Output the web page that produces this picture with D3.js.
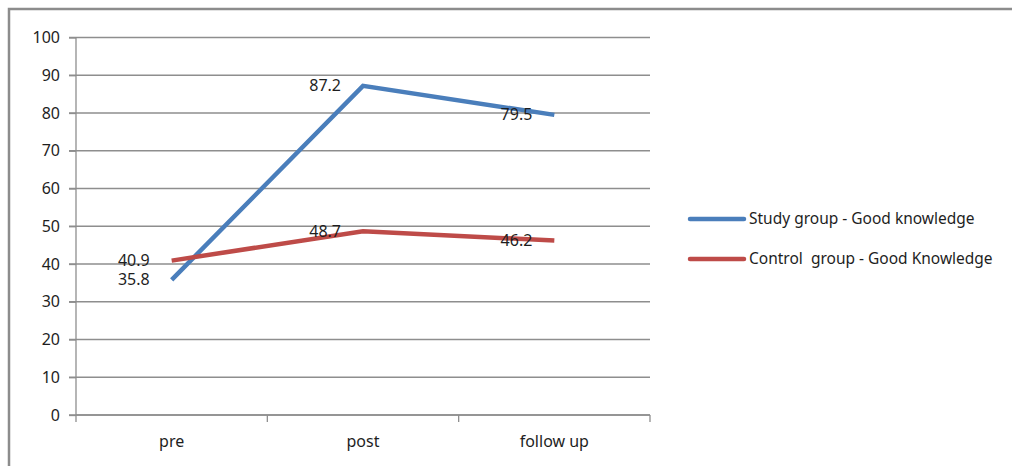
<!DOCTYPE html>
<html>
<head>
<meta charset="utf-8">
<script src="https://cdn.jsdelivr.net/npm/d3@7"></script>
<style>
  body { margin: 0; background: #fff; }
  svg { display: block; }
</style>
</head>
<body>
<script>
// chart values
const categories = ['pre', 'post', 'follow up'];
const studyValues = [35.8, 87.2, 79.5];
const controlValues = [40.9, 48.7, 46.2];
const yTicks = [0, 10, 20, 30, 40, 50, 60, 70, 80, 90, 100];
const seriesNames = ['Study group - Good knowledge', 'Control  group - Good Knowledge'];

const series = [
  { name: seriesNames[0], values: studyValues, color: '#4a7ebb' },
  { name: seriesNames[1], values: controlValues, color: '#be4b48' }
];

const svg = d3.select('body').append('svg')
  .attr('width', 1012)
  .attr('height', 466);

// outer frame (right and bottom edges are cut off in the original)
svg.append('path')
  .attr('d', 'M9,466 V9 H1012')
  .attr('fill', 'none')
  .attr('stroke', '#8c8c8c')
  .attr('stroke-width', 2.5);

const x = d3.scaleBand().domain(categories).range([76, 650]);
const y = d3.scaleLinear().domain([0, 100]).range([415, 37.5]);

const font = '"Noto Sans", sans-serif';
const textColor = '#1e1e1e';

// gridlines
svg.append('g')
  .selectAll('line')
  .data(yTicks)
  .join('line')
  .attr('x1', 69)
  .attr('x2', 650)
  .attr('y1', d => y(d))
  .attr('y2', d => y(d))
  .attr('stroke', '#8e8e8e')
  .attr('stroke-width', 1.3);

// y axis
const yAxis = svg.append('g')
  .attr('transform', 'translate(76,0)')
  .call(d3.axisLeft(y).tickValues(yTicks).tickSize(7).tickPadding(9));
yAxis.select('.domain').attr('stroke', '#8e8e8e').attr('stroke-width', 1.3)
  .attr('d', 'M0,' + y(100) + 'V' + (y(0) + 7));
yAxis.selectAll('.tick line').attr('stroke', '#8e8e8e').attr('stroke-width', 1.3);
yAxis.selectAll('text')
  .attr('font-family', font)
  .attr('font-size', 16)
  .attr('fill', textColor);

// x axis, ticks at the band edges
const xAxis = svg.append('g')
  .attr('transform', 'translate(0,' + y(0) + ')');
xAxis.append('line')
  .attr('x1', 76).attr('x2', 650)
  .attr('stroke', '#8e8e8e').attr('stroke-width', 1.3);
xAxis.selectAll('.edge')
  .data(categories)
  .join('line')
  .attr('class', 'edge')
  .attr('x1', d => x(d) + x.bandwidth())
  .attr('x2', d => x(d) + x.bandwidth())
  .attr('y1', 0).attr('y2', 7)
  .attr('stroke', '#8e8e8e').attr('stroke-width', 1.3);
xAxis.selectAll('text')
  .data(categories)
  .join('text')
  .attr('x', d => x(d) + x.bandwidth() / 2)
  .attr('y', 32)
  .attr('text-anchor', 'middle')
  .attr('font-family', font)
  .attr('font-size', 16)
  .attr('fill', textColor)
  .text(d => d);

// lines
const line = d3.line()
  .x((d, i) => x(categories[i]) + x.bandwidth() / 2)
  .y(d => y(d));

svg.append('g')
  .selectAll('path')
  .data(series)
  .join('path')
  .attr('d', d => line(d.values))
  .attr('fill', 'none')
  .attr('stroke', d => d.color)
  .attr('stroke-width', 4.5)
  .attr('stroke-linejoin', 'miter');

// data labels, left of each point
series.forEach(s => {
  svg.append('g')
    .selectAll('text')
    .data(s.values)
    .join('text')
    .attr('x', (d, i) => x(categories[i]) + x.bandwidth() / 2 - 22)
    .attr('y', d => y(d))
    .attr('dy', '0.35em')
    .attr('text-anchor', 'end')
    .attr('font-family', font)
    .attr('font-size', 16)
    .attr('fill', textColor)
    .text(d => d.toFixed(1));
});

// legend
const legend = svg.append('g')
  .selectAll('g')
  .data(series)
  .join('g')
  .attr('transform', (d, i) => 'translate(690,' + (219 + i * 40) + ')');
legend.append('line')
  .attr('x1', 0).attr('x2', 54)
  .attr('stroke', d => d.color)
  .attr('stroke-width', 4.5)
  .attr('stroke-linecap', 'round');
legend.append('text')
  .attr('x', 59)
  .attr('dy', '0.35em')
  .attr('font-family', font)
  .attr('font-size', 15.5)
  .attr('fill', textColor)
  .style('white-space', 'pre')
  .text(d => d.name);
</script>
</body>
</html>
